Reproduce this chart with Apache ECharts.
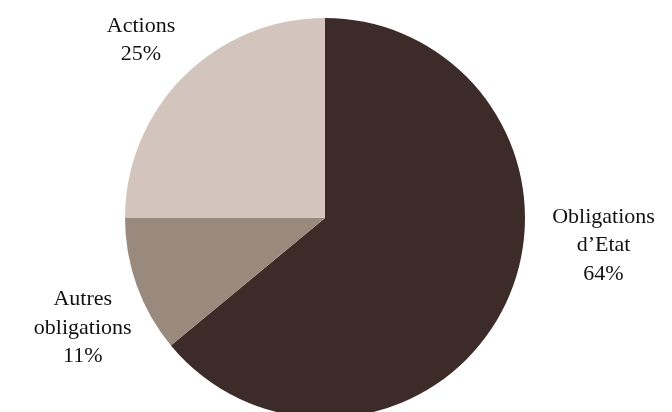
<!DOCTYPE html>
<html><head><meta charset="utf-8">
<script src="https://cdn.jsdelivr.net/npm/echarts@6/dist/echarts.min.js"></script>
<style>html,body{margin:0;padding:0;background:#fff}#c{width:672px;height:412px}</style>
</head><body><div id="c"></div>
<script>
const categories = ["Obligations\nd’Etat", "Autres\nobligations", "Actions"];
const values = [64, 11, 25];
const colors = ["#3d2b29", "#9a897d", "#d3c4bd"];
const labelShift = [[79, -64], [-35, 37], [-27, -26]];

const chart = echarts.init(document.getElementById('c'));
chart.setOption({
  animation: false,
  series: [{
    type: 'pie',
    center: [325, 218],
    radius: [0, 200],
    startAngle: 90,
    clockwise: true,
    data: categories.map((n, i) => ({name: n, value: values[i], itemStyle: {color: colors[i]}})),
    label: {
      show: true,
      position: 'outside',
      formatter: p => p.name + '\n' + p.value + '%',
      fontFamily: 'Liberation Serif',
      fontSize: 22,
      lineHeight: 28.5,
      color: '#111',
      align: 'center'
    },
    labelLine: {show: false, length: 15, length2: 0},
    labelLayout: p => ({dx: labelShift[p.dataIndex][0], dy: labelShift[p.dataIndex][1], align: 'center'})
  }]
});
</script></body></html>
